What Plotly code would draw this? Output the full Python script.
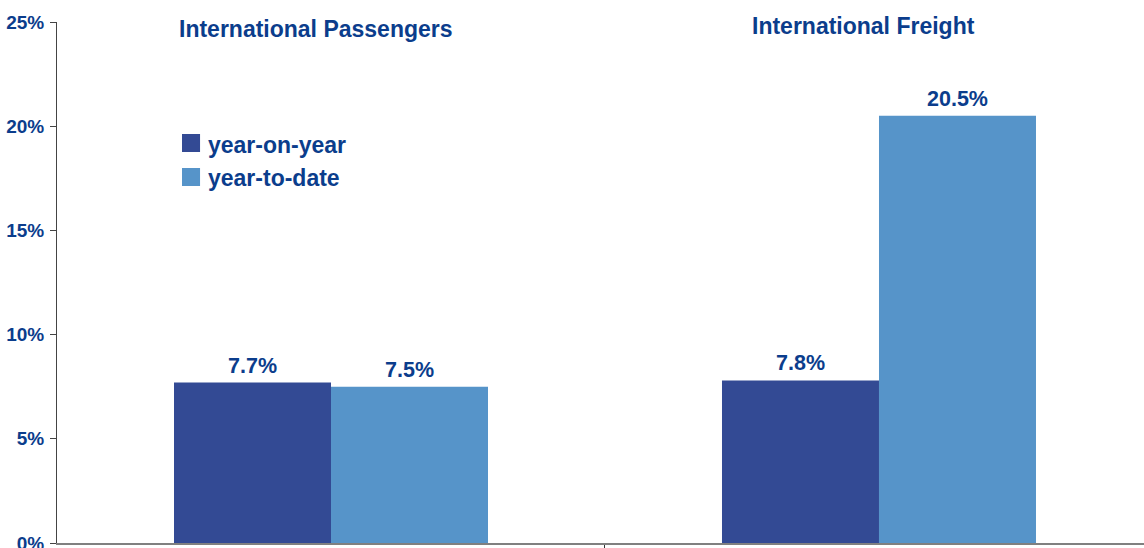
import plotly.graph_objects as go

# Growth rates by traffic segment
categories = ["International Passengers", "International Freight"]
year_on_year = [7.7, 7.8]
year_to_date = [7.5, 20.5]
series_names = ["year-on-year", "year-to-date"]
y_ticks = [0, 5, 10, 15, 20, 25]
y_tick_labels = ["0%", "5%", "10%", "15%", "20%", "25%"]

DARK = "#334a94"
LIGHT = "#5694c9"
TEXT = "#0b3d8c"
FONT = "Liberation Sans"
BARGAP = 0.427

x_pos = list(range(len(categories)))
series = [(series_names[0], year_on_year, DARK),
          (series_names[1], year_to_date, LIGHT)]

fig = go.Figure()
for name, vals, col in series:
    fig.add_trace(go.Bar(
        x=x_pos, y=vals, name=name, marker=dict(color=col, line=dict(width=0)),
        showlegend=False,
    ))

# Value labels centred over each bar of the group
half = (1 - BARGAP) / 2
n = len(series)
for k, (name, vals, col) in enumerate(series):
    off = -half + (k + 0.5) * (2 * half / n)
    for i, v in enumerate(vals):
        fig.add_annotation(
            x=x_pos[i] + off, y=v, xref="x", yref="y",
            text=f"<b>{v:.1f}%</b>", showarrow=False,
            xanchor="center", yanchor="bottom", yshift=3,
            font=dict(family=FONT, size=21.5, color=TEXT),
        )

# Category headings above each group
for i, cat in enumerate(categories):
    fig.add_annotation(
        x=x_pos[i], xref="x", y=[0.9866, 0.9923][i], yref="paper",
        text=f"<b>{cat}</b>", showarrow=False, xshift=-15,
        font=dict(family=FONT, size=23, color=TEXT),
        xanchor="center", yanchor="middle",
    )

# Legend drawn as swatches with labels
legend_rows = [(series_names[0], DARK, 0.785, 0.7505, 0.7640),
               (series_names[1], LIGHT, 0.7198, 0.6852, 0.7010)]
for name, col, y1, y0, yt in legend_rows:
    fig.add_shape(type="rect", xref="paper", yref="paper",
                  x0=0.115, x1=0.1316, y0=y0, y1=y1,
                  fillcolor=col, line=dict(width=0))
    fig.add_annotation(x=0.1371, y=yt, xref="paper", yref="paper",
                       text=f"<b>{name}</b>", showarrow=False,
                       xanchor="left", yanchor="middle",
                       font=dict(family=FONT, size=23, color=TEXT))

fig.update_layout(
    width=1144, height=548,
    margin=dict(l=57, r=0, t=22, b=5, autoexpand=False),
    paper_bgcolor="white", plot_bgcolor="white",
    barmode="group", bargap=BARGAP, bargroupgap=0,
    font=dict(family=FONT, color=TEXT),
    xaxis=dict(
        range=[-0.5, 1.4836], showgrid=False, zeroline=False,
        showline=True, linecolor="#808080", linewidth=2,
        tickmode="array", tickvals=[0.5], ticktext=[""],
        ticks="outside", ticklen=6, tickcolor="#333333", tickwidth=1,
        showticklabels=False, automargin=False,
    ),
    yaxis=dict(
        range=[0, 25], showgrid=False, zeroline=False,
        showline=True, linecolor="#444444", linewidth=1,
        tickmode="array", tickvals=y_ticks,
        ticktext=[f"<b>{t}</b>" for t in y_tick_labels],
        ticks="outside", ticklen=6, tickcolor="#444444",
        tickfont=dict(family=FONT, size=19, color=TEXT),
        ticklabelstandoff=2, ticklabeloverflow="allow", automargin=False,
    ),
)

fig.write_html("out.html")
